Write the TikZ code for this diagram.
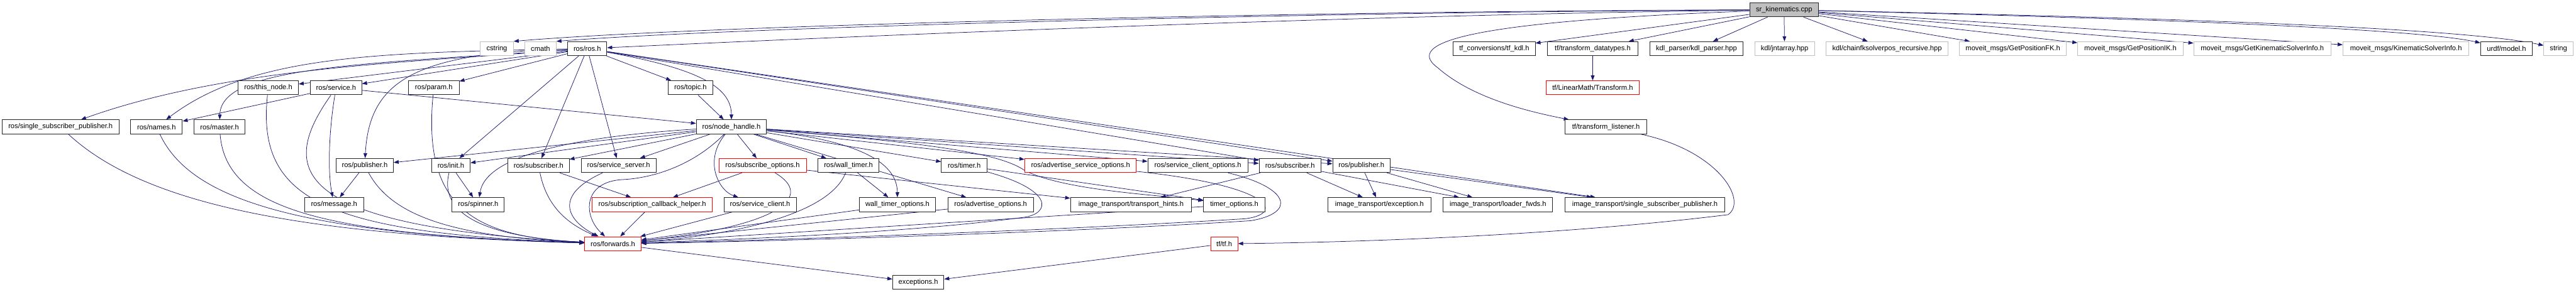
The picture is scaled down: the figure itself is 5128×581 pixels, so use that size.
\documentclass[tikz,border=0pt]{standalone}
\usepackage{fontspec}
\setmainfont{Liberation Sans}
\usetikzlibrary{arrows.meta}
\definecolor{edgec}{HTML}{191970}
\definecolor{extb}{HTML}{BFBFBF}
\definecolor{redb}{HTML}{FF0000}
\pgfdeclarelayer{edgelayer}
\pgfsetlayers{edgelayer,main}
\begin{document}
\begin{tikzpicture}[x=0.75pt,y=-0.75pt,
  bw/.style={minimum width=#1*0.75pt},
  box/.style={draw=black!85,line width=0.9pt,fill=white,minimum height=21pt,inner sep=0pt,font=\fontsize{10.5}{12}\selectfont},
  ext/.style={box,draw=extb},
  redbox/.style={box,draw=redb},
  rootbox/.style={box,fill=extb},
  lnk/.style={draw=edgec,line width=0.7pt,-{Triangle[length=7.5pt,width=5.5pt]}}]
\useasboundingbox (0,0) rectangle (5128,581);
% row 0
\node[rootbox,bw=137] (root) at (3551.5,19.5) {sr\_kinematics.cpp};
% row 1
\node[ext,bw=66] (cstr) at (989,97) {cstring};
\node[ext,bw=62] (cmath) at (1076,97) {cmath};
\node[box,bw=78] (ros) at (1169,97) {ros/ros.h};
\node[box,bw=163] (tfkdl) at (2974.5,97) {tf\_conversions/tf\_kdl.h};
\node[box,bw=181] (tfdt) at (3170.5,97) {tf/transform\_datatypes.h};
\node[box,bw=186] (kdlp) at (3377,97) {kdl\_parser/kdl\_parser.hpp};
\node[ext,bw=119] (jnt) at (3552.5,97) {kdl/jntarray.hpp};
\node[ext,bw=243] (chain) at (3756.5,97) {kdl/chainfksolverpos\_recursive.hpp};
\node[ext,bw=212] (fk) at (4007,97) {moveit\_msgs/GetPositionFK.h};
\node[ext,bw=210] (ik) at (4241,97) {moveit\_msgs/GetPositionIK.h};
\node[ext,bw=273] (gksi) at (4503.5,97) {moveit\_msgs/GetKinematicSolverInfo.h};
\node[ext,bw=251] (ksi) at (4789.5,97) {moveit\_msgs/KinematicSolverInfo.h};
\node[box,bw=103] (urdf) at (4989.5,97) {urdf/model.h};
\node[ext,bw=58] (str) at (5093,97) {string};
% row 2
\node[box,bw=120] (thisn) at (534,175) {ros/this\_node.h};
\node[box,bw=102] (srv) at (669,175) {ros/service.h};
\node[box,bw=101] (param) at (863.5,175) {ros/param.h};
\node[box,bw=89] (topic) at (1374.5,175) {ros/topic.h};
\node[redbox,bw=185] (lmt) at (3170.5,175) {tf/LinearMath/Transform.h};
% row 3
\node[box,bw=233] (ssp) at (120.5,253) {ros/single\_subscriber\_publisher.h};
\node[box,bw=103] (names) at (311.5,253) {ros/names.h};
\node[box,bw=102] (master) at (437,253) {ros/master.h};
\node[box,bw=140] (nh) at (1456,253) {ros/node\_handle.h};
\node[box,bw=162] (tfl) at (3197,253) {tf/transform\_listener.h};
% row 4
\node[box,bw=114] (publ) at (726,330) {ros/publisher.h};
\node[box,bw=77] (init) at (897.5,330) {ros/init.h};
\node[box,bw=122] (subl) at (1072,330) {ros/subscriber.h};
\node[box,bw=149] (ssrv) at (1231.5,330) {ros/service\_server.h};
\node[redbox,bw=174] (subo) at (1518,330) {ros/subscribe\_options.h};
\node[box,bw=122] (wt) at (1689,330) {ros/wall\_timer.h};
\node[box,bw=91] (timer) at (1919.5,330) {ros/timer.h};
\node[redbox,bw=222] (aso) at (2151,330) {ros/advertise\_service\_options.h};
\node[box,bw=199] (sco) at (2384.5,330) {ros/service\_client\_options.h};
\node[box,bw=123] (subr) at (2568,330) {ros/subscriber.h};
\node[box,bw=114] (pubr) at (2710,330) {ros/publisher.h};
% row 5
\node[box,bw=118] (msg) at (665,408) {ros/message.h};
\node[box,bw=104] (spin) at (952,408) {ros/spinner.h};
\node[redbox,bw=239] (sch) at (1298.5,408) {ros/subscription\_callback\_helper.h};
\node[box,bw=144] (sc) at (1513,408) {ros/service\_client.h};
\node[box,bw=151] (wto) at (1786.5,408) {wall\_timer\_options.h};
\node[box,bw=170] (ao) at (1972,408) {ros/advertise\_options.h};
\node[box,bw=241] (th) at (2251.5,408) {image\_transport/transport\_hints.h};
\node[box,bw=122] (tmo) at (2457,408) {timer\_options.h};
\node[box,bw=206] (itex) at (2746,408) {image\_transport/exception.h};
\node[box,bw=218] (itlf) at (2982,408) {image\_transport/loader\_fwds.h};
\node[box,bw=319] (itssp) at (3274.5,408) {image\_transport/single\_subscriber\_publisher.h};
% row 6
\node[redbox,bw=112] (fwd) at (1220,486) {ros/forwards.h};
\node[redbox,bw=54] (tfh) at (2437,486) {tf/tf.h};
% row 7
\node[box,bw=102] (exc) at (1828,563) {exceptions.h};

\begin{pgfonlayer}{edgelayer}
% root edges
\draw[lnk] (root) .. controls (2600,22) and (1400,50) .. (cstr.north east);
\draw[lnk] (root) .. controls (2600,24) and (1450,55) .. (cmath.north east);
\draw[lnk] (root) .. controls (2700,30) and (1700,72) .. (ros);
\draw[lnk] (root) -- (tfkdl);
\draw[lnk] (root) -- (tfdt);
\draw[lnk] (root) -- (kdlp);
\draw[lnk] (root) -- (jnt);
\draw[lnk] (root) -- (chain);
\draw[lnk] (root) -- (fk);
\draw[lnk] (root) -- (ik);
\draw[lnk] (root) -- (gksi);
\draw[lnk] (root) -- (ksi);
\draw[lnk] (root) .. controls (4200,35) and (4800,55) .. (urdf);
\draw[lnk] (root) .. controls (4300,35) and (4900,55) .. (str);
\draw[lnk] (root) .. controls (3000,40) and (2780,75) .. (2862,135) .. controls (2930,195) and (3040,222) .. (tfl);
% ros.h edges
\draw[lnk] (ros) .. controls (800,125) and (450,135) .. (ssp);
\draw[lnk] (ros) .. controls (750,105) and (500,110) .. (names);
\draw[lnk] (ros) .. controls (700,128) and (440,135) .. (master);
\draw[lnk] (ros) -- (thisn);
\draw[lnk] (ros) -- (srv);
\draw[lnk] (ros) .. controls (820,105) and (735,165) .. (publ);
\draw[lnk] (ros) -- (param);
\draw[lnk] (ros) -- (init);
\draw[lnk] (ros) -- (subl);
\draw[lnk] (ros) -- (ssrv);
\draw[lnk] (ros) -- (topic);
\draw[lnk] (ros) .. controls (1380,135) and (1456,170) .. (nh);
\draw[lnk] (ros) -- (subr);
\draw[lnk] (ros) -- (pubr);
\draw[lnk] (ros) -- (itssp);
\draw[lnk] (topic) -- (nh);
% node_handle edges
\draw[lnk] (nh) -- (publ);
\draw[lnk] (nh) -- (init);
\draw[lnk] (nh) .. controls (1100,275) and (965,320) .. (spin);
\draw[lnk] (nh) -- (subl);
\draw[lnk] (nh) -- (ssrv);
\draw[lnk] (nh) .. controls (1380,330) and (1300,355) .. (1240,358) .. controls (1160,362) and (1160,430) .. (fwd);
\draw[lnk] (nh) .. controls (1400,320) and (1430,380) .. (sc);
\draw[lnk] (nh) -- (subo);
\draw[lnk] (nh) -- (wt);
\draw[lnk] (nh) -- (timer);
\draw[lnk] (nh) -- (aso);
\draw[lnk] (nh) -- (sco);
\draw[lnk] (nh) -- (subr);
\draw[lnk] (nh) -- (pubr);
\draw[lnk] (nh) .. controls (1700,280) and (1786,320) .. (wto);
\draw[lnk] (nh) -- (ao);
\draw[lnk] (nh) .. controls (1850,285) and (1990,305) .. (2040,340) .. controls (2120,380) and (2300,388) .. (tmo);
% service
\draw[lnk] (srv) -- (names);
\draw[lnk] (srv) .. controls (655,260) and (652,340) .. (msg);
\draw[lnk] (srv) -- (nh);
\draw[lnk] (srv) .. controls (560,330) and (560,450) .. (fwd);
% into forwards from the left
\draw[lnk] (ssp) .. controls (300,420) and (650,470) .. (fwd);
\draw[lnk] (names) .. controls (380,400) and (600,468) .. (fwd);
\draw[lnk] (master) .. controls (450,420) and (650,468) .. (fwd);
\draw[lnk] (thisn) .. controls (510,400) and (650,465) .. (fwd);
\draw[lnk] (publ) .. controls (780,430) and (900,472) .. (fwd);
\draw[lnk] (param) .. controls (840,420) and (950,472) .. (fwd);
\draw[lnk] (init) .. controls (870,440) and (1000,474) .. (fwd);
\draw[lnk] (publ) -- (msg);
\draw[lnk] (init) -- (spin);
\draw[lnk] (subl) .. controls (1090,420) and (1140,450) .. (fwd);
\draw[lnk] (subl) -- (sch);
\draw[lnk] (ssrv) .. controls (1100,390) and (1130,440) .. (fwd);
\draw[lnk] (sch) -- (fwd);
\draw[lnk] (sc) -- (fwd);
\draw[lnk] (subo) -- (sch);
\draw[lnk] (subo) .. controls (1620,390) and (1560,450) .. (fwd);
\draw[lnk] (subo) -- (th);
\draw[lnk] (wt) -- (wto);
\draw[lnk] (wt) .. controls (1650,430) and (1450,470) .. (fwd);
\draw[lnk] (wto) -- (fwd);
\draw[lnk] (ao) -- (fwd);
\draw[lnk] (timer) -- (tmo);
\draw[lnk] (timer) .. controls (2100,380) and (2090,425) .. (2040,433) .. controls (1800,465) and (1450,478) .. (fwd);
\draw[lnk] (tmo) -- (fwd);
\draw[lnk] (aso) .. controls (2530,370) and (2560,425) .. (2480,436) .. controls (2100,460) and (1500,480) .. (fwd);
\draw[lnk] (sco) .. controls (2570,375) and (2580,425) .. (2490,440) .. controls (2100,465) and (1500,482) .. (fwd);
% image transport
\draw[lnk] (subr) -- (th);
\draw[lnk] (subr) -- (itex);
\draw[lnk] (subr) -- (itlf);
\draw[lnk] (pubr) -- (itex);
\draw[lnk] (pubr) -- (itlf);
\draw[lnk] (pubr) -- (itssp);
% bottom
\draw[lnk] (fwd) -- (exc);
\draw[lnk] (tfh) -- (exc);
\draw[lnk] (tfl) .. controls (3420,300) and (3480,400) .. (3440,428) .. controls (3100,470) and (2700,483) .. (tfh);
\draw[lnk] (tfdt) -- (lmt);
\end{pgfonlayer}
\end{tikzpicture}
\end{document}
